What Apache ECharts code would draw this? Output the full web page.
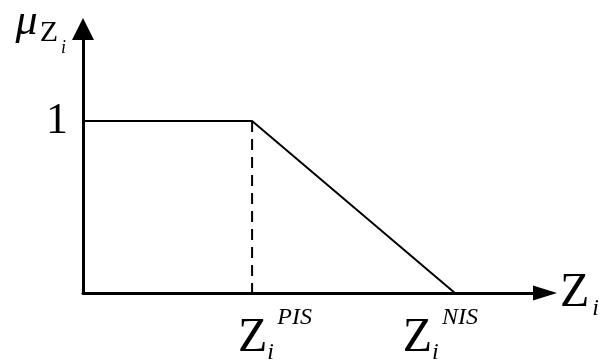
<!DOCTYPE html>
<html lang="en">

<head>
    <meta charset="utf-8">
    <title>Membership function</title>
    <script src="https://cdn.jsdelivr.net/npm/echarts@6/dist/echarts.min.js"></script>
    <style type="text/css">
        html, body {margin: 0; padding: 0; background: #fff;}
        #chart {width: 608px; height: 360px;}
    </style>
</head>

<body>
    <div id="chart"></div>
    <script>
        // positions on the Z axis (0 .. xMax) and membership values
        var xMax = 10, yMax = 1.535;
        var zPIS = 3.66, zNIS = 8.05;
        var curveX = [0, zPIS, zNIS];
        var curveY = [1, 1, 0];
        var dashX = [zPIS, zPIS];
        var dashY = [1, 0];
        var xTickValues = [zPIS, zNIS];
        var xTickSup = ['PIS', 'NIS'];
        var yTickValues = [1];
        var yTickLabels = ['1'];

        var serif = '"Liberation Serif", "Times New Roman", serif';

        for (var curve = [], k = 0; k < curveX.length; k++) curve.push([curveX[k], curveY[k]]);
        for (var dash = [], k = 0; k < dashX.length; k++) dash.push([dashX[k], dashY[k]]);

        // sub/superscripts: every token is top aligned, padding-top moves it down
        function tok(size, italic, top, extra) {
            var s = {fontFamily: serif, fontSize: size, color: '#000',
                     fontStyle: italic ? 'italic' : 'normal',
                     verticalAlign: 'top', lineHeight: 20, padding: [top, 0, 0, 0]};
            for (var key in extra) s[key] = extra[key];
            return s;
        }

        var chart = echarts.init(document.getElementById('chart'), null, {renderer: 'canvas'});
        chart.setOption({
            animation: false,
            backgroundColor: '#fff',
            grid: {left: 83, right: 63, top: 29, bottom: 67, outerBoundsMode: 'none'},
            xAxis: {
                type: 'value', min: 0, max: xMax,
                splitLine: {show: false}, axisTick: {show: false},
                axisLine: {
                    lineStyle: {color: '#000', width: 3},
                    symbol: ['none', 'triangle'], symbolSize: [15, 24]
                },
                name: '{z|Z}{i|i}',
                nameLocation: 'end', nameGap: 15,
                nameTextStyle: {
                    align: 'left', verticalAlign: 'middle',
                    rich: {
                        z: tok(48, false, 26, {lineHeight: 100}),
                        i: tok(24, true, 54, {lineHeight: 100, padding: [54, 0, 0, 3]})
                    }
                },
                axisLabel: {
                    customValues: xTickValues,
                    margin: 0,
                    formatter: function (v) {
                        var idx = xTickValues.indexOf(v);
                        var gap = idx === 1 ? '{gap| }' : '';
                        return '{z|Z}{i|i}{s|' + xTickSup[idx] + '}' + gap;
                    },
                    rich: {
                        z: tok(48, false, 21, {align: 'left'}),
                        i: tok(24, true, 48, {width: 10, align: 'left'}),
                        s: tok(24, true, 13, {width: -11, align: 'left'}),
                        gap: {fontSize: 10, width: 76, align: 'left'}
                    }
                }
            },
            yAxis: {
                type: 'value', min: 0, max: yMax,
                splitLine: {show: false}, axisTick: {show: false},
                axisLine: {
                    lineStyle: {color: '#000', width: 3},
                    symbol: ['none', 'triangle'], symbolSize: [22, 22]
                },
                name: '{mu|μ}{z|Z}{i|i}',
                nameLocation: 'end', nameGap: 29,
                nameTextStyle: {
                    align: 'right', verticalAlign: 'top',
                    padding: [0, 17, 0, 0],
                    rich: {
                        mu: tok(44, true, 0),
                        z: tok(30, false, 18, {padding: [18, 0, 0, 2]}),
                        i: tok(18, true, 39, {padding: [39, 0, 0, 3]})
                    }
                },
                axisLabel: {
                    customValues: yTickValues,
                    margin: 15,
                    fontFamily: serif, fontSize: 44, color: '#000',
                    padding: [0, 0, 26, 0],
                    formatter: function (v) {
                        return yTickLabels[yTickValues.indexOf(v)];
                    }
                }
            },
            series: [
                {
                    type: 'line', data: curve, showSymbol: false, symbol: 'none',
                    lineStyle: {color: '#000', width: 2}, z: 3
                },
                {
                    type: 'line', data: dash, showSymbol: false, symbol: 'none',
                    lineStyle: {color: '#000', width: 2, type: [11, 7]}, z: 3
                }
            ]
        });
    </script>
</body>
</html>
